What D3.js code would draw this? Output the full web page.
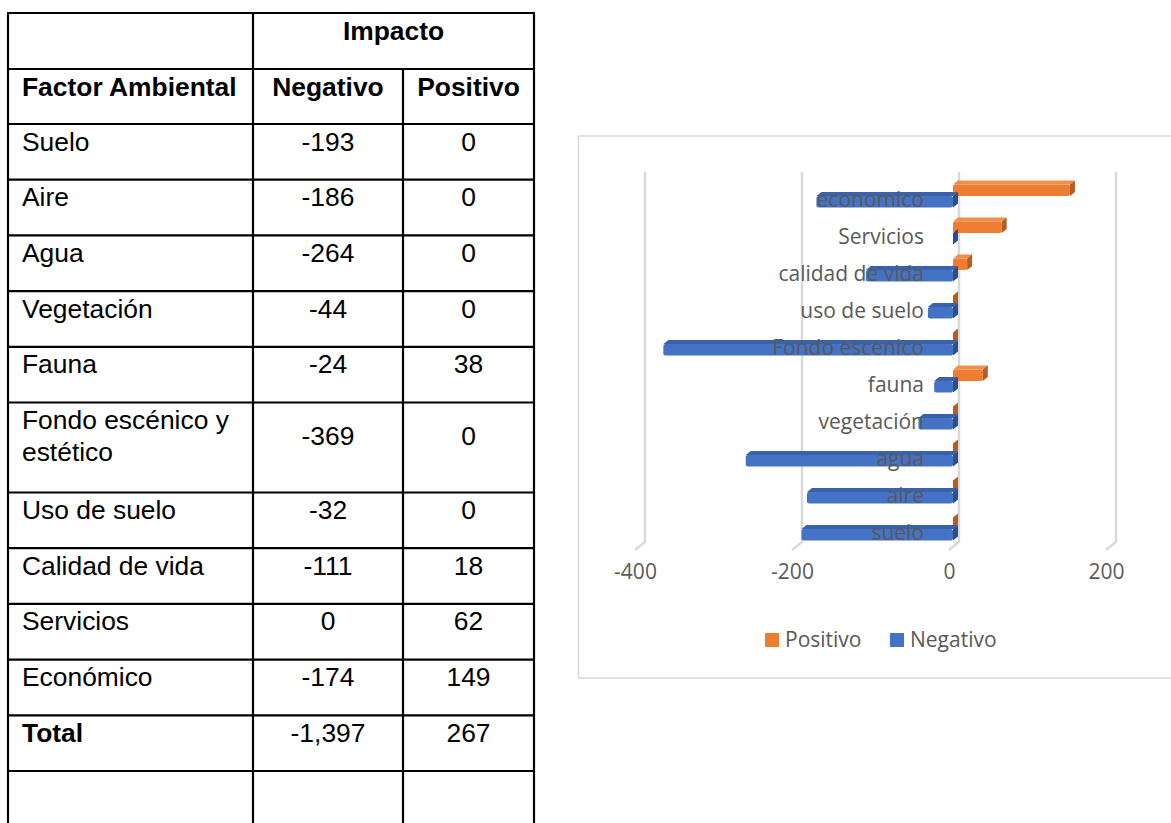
<!DOCTYPE html>
<html lang="es">
<head>
<meta charset="UTF-8">
<title>Impacto por factor ambiental</title>
<style>
  body { margin: 0; background: #fff; }
  .cell { font: 26.4px "Liberation Sans", Arial, sans-serif; fill: #000; }
  .bold { font-weight: bold; }
  .lbl { font: 21px "Open Sans", sans-serif; fill: #595959; }
</style>
</head>
<body>
<div id="chart"></div>
<script src="https://cdn.jsdelivr.net/npm/d3@7"></script>
<script>
// table data
const factores = ["Suelo", "Aire", "Agua", "Vegetación", "Fauna", "Fondo escénico y\nestético",
                  "Uso de suelo", "Calidad de vida", "Servicios", "Económico"];
const negativo = [-193, -186, -264, -44, -24, -369, -32, -111, 0, -174];
const positivo = [0, 0, 0, 0, 38, 0, 0, 18, 62, 149];

// chart categories (as the chart labels them, bottom to top)
const categorias = ["suelo", "aire", "agua", "vegetación", "fauna", "Fondo escenico",
                    "uso de suelo", "calidad de vida", "Servicios", "economico"];
const ticks = [-400, -200, 0, 200];
const series = ["Positivo", "Negativo"];
const colores = { Positivo: "#ED7D31", Negativo: "#4472C4" };
const caras = {
  Positivo: { top: "#f28d4c", side: "#b85d22" },
  Negativo: { top: "#3a62ab", side: "#2c4f8c" }
};

const W = 1171, H = 823;
const svg = d3.select("#chart").append("svg")
  .attr("width", W).attr("height", H);

const fmt = v => d3.format(",")(v).replace("\u2212", "-");

// ---------- table ----------
const cols = [8, 253, 403, 534];
const rowH = 55.7, fondoH = 90;
const rows = factores.map(f => ({ lines: f.split("\n") }));
rows.forEach((r, i) => { r.neg = negativo[i]; r.pos = positivo[i]; });
rows.push({ lines: ["Total"], neg: d3.sum(negativo), pos: d3.sum(positivo), bold: true });

let y = 124;
rows.forEach(r => {
  r.top = y;
  y += r.lines.length > 1 ? fondoH : rowH;
});
const lastTop = y;

const tbl = svg.append("g");
const hLines = [13, 69].concat(rows.map(r => r.top), [lastTop]);

tbl.selectAll("line.h").data(hLines).enter().append("line")
  .attr("x1", cols[0] - 1).attr("x2", cols[3] + 1)
  .attr("y1", d => d).attr("y2", d => d)
  .attr("stroke", "#000").attr("stroke-width", 2.2);

tbl.selectAll("line.v").data(cols).enter().append("line")
  .attr("x1", d => d).attr("x2", d => d)
  .attr("y1", (d, i) => i === 2 ? 69 : 13).attr("y2", H)
  .attr("stroke", "#000").attr("stroke-width", 2.2);

const negX = (cols[1] + cols[2]) / 2, posX = (cols[2] + cols[3]) / 2;

tbl.append("text").attr("class", "cell bold")
  .attr("x", (cols[1] + cols[3]) / 2).attr("y", 13 + 27)
  .attr("text-anchor", "middle").text("Impacto");
tbl.append("text").attr("class", "cell bold")
  .attr("x", 22).attr("y", 69 + 26.5).text("Factor Ambiental");
tbl.append("text").attr("class", "cell bold")
  .attr("x", negX).attr("y", 69 + 26.5).attr("text-anchor", "middle").text("Negativo");
tbl.append("text").attr("class", "cell bold")
  .attr("x", posX).attr("y", 69 + 26.5).attr("text-anchor", "middle").text("Positivo");

rows.forEach(r => {
  const t = tbl.append("text").attr("class", r.bold ? "cell bold" : "cell")
    .attr("x", 22).attr("y", r.top + 26.5);
  r.lines.forEach((l, j) => {
    t.append("tspan").attr("x", 22).attr("dy", j === 0 ? 0 : 32).text(l);
  });
  const ny = r.top + 26.5 + (r.lines.length - 1) * 16;
  tbl.append("text").attr("class", "cell").attr("x", negX).attr("y", ny)
    .attr("text-anchor", "middle").text(fmt(r.neg));
  tbl.append("text").attr("class", "cell").attr("x", posX).attr("y", ny)
    .attr("text-anchor", "middle").text(fmt(r.pos));
});

// ---------- chart ----------
const ch = svg.append("g");
ch.append("rect")
  .attr("x", 578.5).attr("y", 136).attr("width", 700).attr("height", 542)
  .attr("fill", "#fff").attr("stroke", "#d9d9d9").attr("stroke-width", 1.5);

// back wall scale; front plane sits down-left of it
const x = d3.scaleLinear().domain([-400, 200]).range([645, 1116]);
const front = { dx: -10, dy: 8 };
const gridTop = 172, gridBot = 542;

ch.selectAll("path.grid").data(ticks).enter().append("path")
  .attr("d", d => `M${x(d)},${gridTop}V${gridBot}l${front.dx},${front.dy}`)
  .attr("fill", "none").attr("stroke", "#d9d9d9").attr("stroke-width", 2.5);

const axisG = ch.append("g")
  .attr("transform", `translate(${front.dx},${gridBot + front.dy + 22})`)
  .call(d3.axisBottom(x).tickValues(ticks).tickSize(0).tickFormat(fmt));
axisG.select(".domain").remove();
axisG.selectAll("text").attr("class", "lbl").attr("dy", "0.32em").attr("y", 0);

const yb = d3.scaleBand().domain(categorias.slice().reverse()).range([177.5, 547.5]);
const barH = 11.5, bdx = 5, bdy = -4, boff = -6;
const bars = [];
categorias.forEach((c, i) => {
  bars.push({ cat: c, s: "Positivo", v: positivo[i] });
  bars.push({ cat: c, s: "Negativo", v: negativo[i] });
});

const barG = ch.selectAll("g.bar").data(bars).enter().append("g");
barG.each(function (d) {
  const g = d3.select(this);
  const m = yb(d.cat) + yb.bandwidth() / 2;
  const y0 = d.s === "Positivo" ? m - barH : m;
  const xa = x(Math.min(0, d.v)) + boff, xb = x(Math.max(0, d.v)) + boff;
  g.append("rect").attr("x", xa).attr("y", y0)
    .attr("width", Math.max(0, xb - xa)).attr("height", barH)
    .attr("rx", 2).attr("fill", colores[d.s]);
  g.append("path")
    .attr("d", `M${xa},${y0}L${xa + bdx},${y0 + bdy}L${xb + bdx},${y0 + bdy}L${xb},${y0}Z`)
    .attr("fill", caras[d.s].top);
  g.append("path")
    .attr("d", `M${xb},${y0}L${xb + bdx},${y0 + bdy}L${xb + bdx},${y0 + bdy + barH}L${xb},${y0 + barH}Z`)
    .attr("fill", caras[d.s].side);
});

ch.selectAll("text.cat").data(categorias).enter().append("text")
  .attr("class", "lbl")
  .attr("x", 924).attr("y", d => yb(d) + yb.bandwidth() / 2 + 4)
  .attr("dy", "0.35em").attr("text-anchor", "end").text(d => d);

// legend
const leg = ch.append("g").attr("transform", "translate(0,640)");
const legX = [765, 890];
series.forEach((s, i) => {
  leg.append("rect").attr("x", legX[i]).attr("y", -7).attr("width", 14).attr("height", 14)
    .attr("fill", colores[s]);
  leg.append("text").attr("class", "lbl").attr("x", legX[i] + 20).attr("y", 0)
    .attr("dy", "0.35em").text(s);
});
</script>
</body>
</html>
